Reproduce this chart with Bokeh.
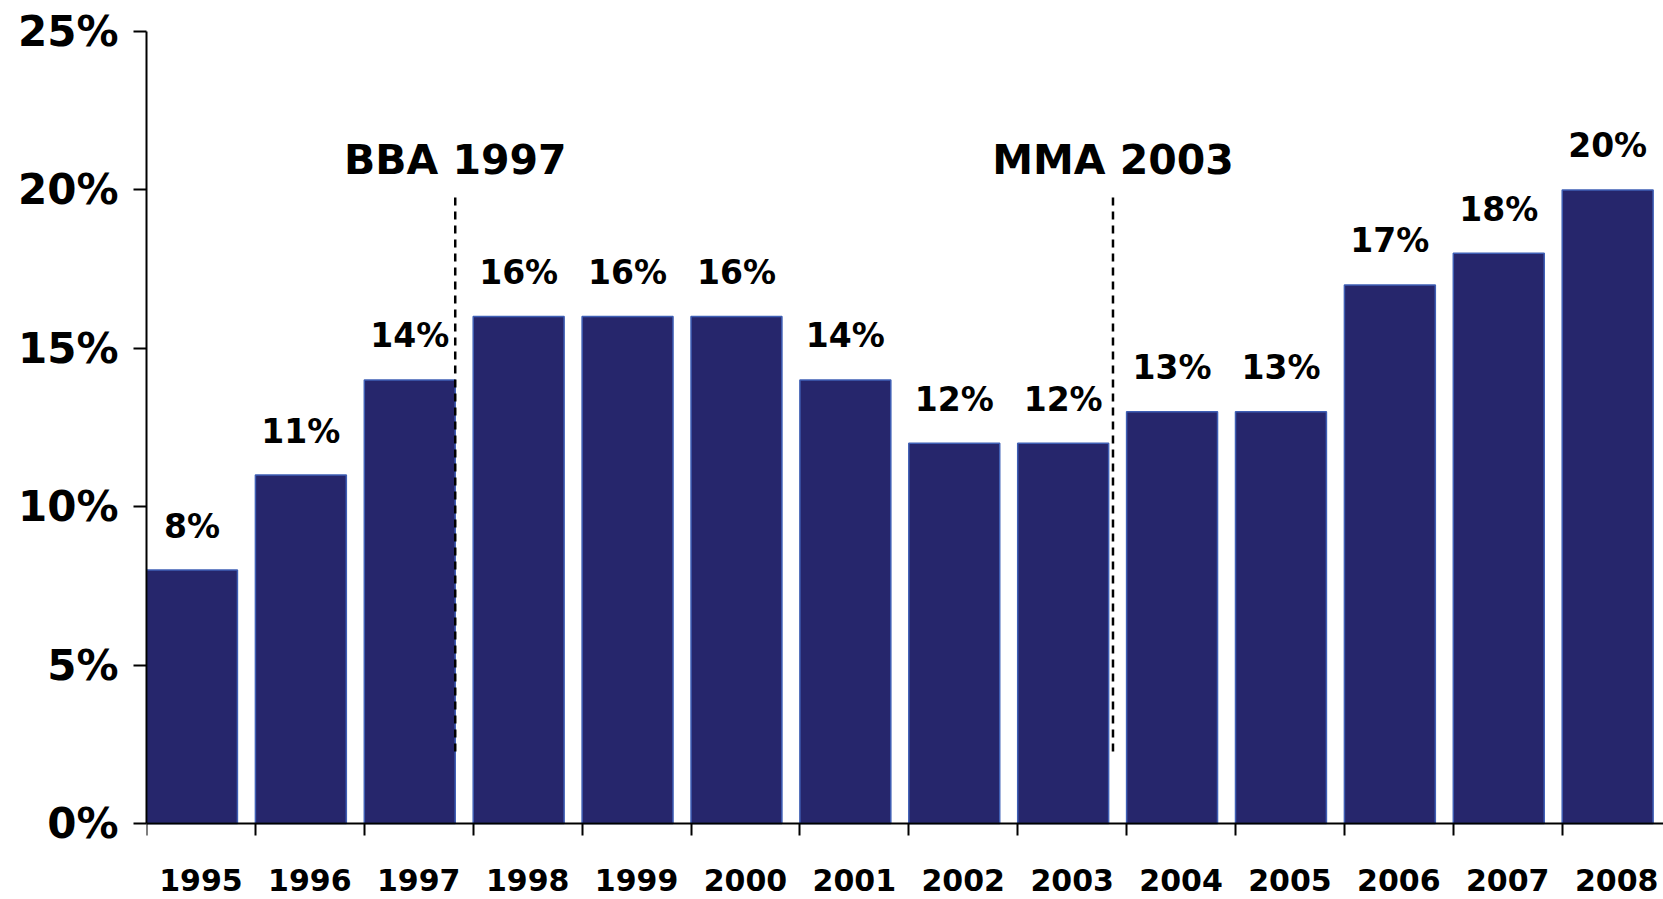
from bokeh.plotting import figure
from bokeh.models import FixedTicker, Range1d, Label, ColumnDataSource
from bokeh.core.properties import value
from bokeh.embed import file_html
from bokeh.resources import INLINE

# ---- data ----
years = ["1995", "1996", "1997", "1998", "1999", "2000", "2001",
         "2002", "2003", "2004", "2005", "2006", "2007", "2008"]
shares = [8, 11, 14, 16, 16, 16, 14, 12, 12, 13, 13, 17, 18, 20]
share_labels = [f"{v}%" for v in shares]
y_ticks = [0, 5, 10, 15, 20, 25]
y_tick_labels = ["0%", "5%", "10%", "15%", "20%", "25%"]
events = ["BBA 1997", "MMA 2003"]
event_years = ["1997", "2003"]

# ---- layout constants ----
W, H = 1663, 899
TOP, LEFT = 31, 146
ZERO_PX = 823            # canvas y of the 0% line
BAR_W = 0.835
FONT = "DejaVu Sans"
px_per_unit = (ZERO_PX - TOP) / 25.0
y_min = -(H - ZERO_PX) / px_per_unit
x_max = (W - LEFT) / 108.9

n = len(years)
idx = list(range(n))
src = ColumnDataSource(dict(
    left=idx,
    xc=[i + BAR_W / 2 for i in idx],
    top=shares,
    lab=share_labels,
))

p = figure(width=W, height=H, output_backend="svg", toolbar_location=None,
           x_range=Range1d(0, x_max), y_range=Range1d(y_min, 25),
           min_border_left=LEFT, min_border_right=0, min_border_top=TOP,
           min_border_bottom=0, outline_line_color=None)
p.grid.visible = False

p.vbar(x="xc", width=BAR_W, bottom=0, top="top", source=src,
       fill_color="#26266C", line_color="#3F5FB5", line_width=1.5)

p.text(x="xc", y="top", text="lab", source=src, text_align="center",
       text_baseline="middle", y_offset=-44,
       text_font=value(FONT), text_font_style="bold", text_font_size="33px",
       text_color="black")

# event markers
for name, yr in zip(events, event_years):
    k = years.index(yr)
    ex = k + BAR_W + (0.0 if yr == "1997" else 0.04)
    p.segment(x0=[ex], y0=[2.27], x1=[ex], y1=[19.8], line_color="black",
              line_width=2.5, line_dash="8 6")
    p.add_layout(Label(x=ex, y=20.93, text=name, text_align="center",
                       text_baseline="middle", text_font=FONT,
                       text_font_style="bold", text_font_size="41px",
                       text_color="black"))

# x axis
xa = p.xaxis[0]
xa.fixed_location = 0
xa.ticker = FixedTicker(ticks=[i + 0.5 for i in idx], minor_ticks=list(range(n + 1)))
xa.major_label_overrides = {i + 0.5: y for i, y in zip(idx, years)}
xa.major_tick_out = 0
xa.major_tick_in = 0
xa.minor_tick_out = 12
xa.minor_tick_in = 0
xa.minor_tick_line_color = "black"
xa.minor_tick_line_width = 2
xa.axis_line_width = 2
xa.axis_line_color = "black"
xa.major_label_standoff = 33
xa.major_label_text_font = FONT
xa.major_label_text_font_style = "bold"
xa.major_label_text_font_size = "30px"
xa.major_label_text_color = "black"

# y axis
ya = p.yaxis[0]
ya.bounds = (0, 25)
ya.ticker = FixedTicker(ticks=y_ticks)
ya.major_label_overrides = {t: l for t, l in zip(y_ticks, y_tick_labels)}
ya.minor_tick_line_color = None
ya.major_tick_out = 13
ya.major_tick_in = 0
ya.major_tick_line_width = 2
ya.axis_line_width = 2
ya.axis_line_color = "black"
ya.major_label_standoff = 15
ya.major_label_text_font = FONT
ya.major_label_text_font_style = "bold"
ya.major_label_text_font_size = "42px"
ya.major_label_text_color = "black"

open("out.html", "w").write(file_html(p, INLINE))
